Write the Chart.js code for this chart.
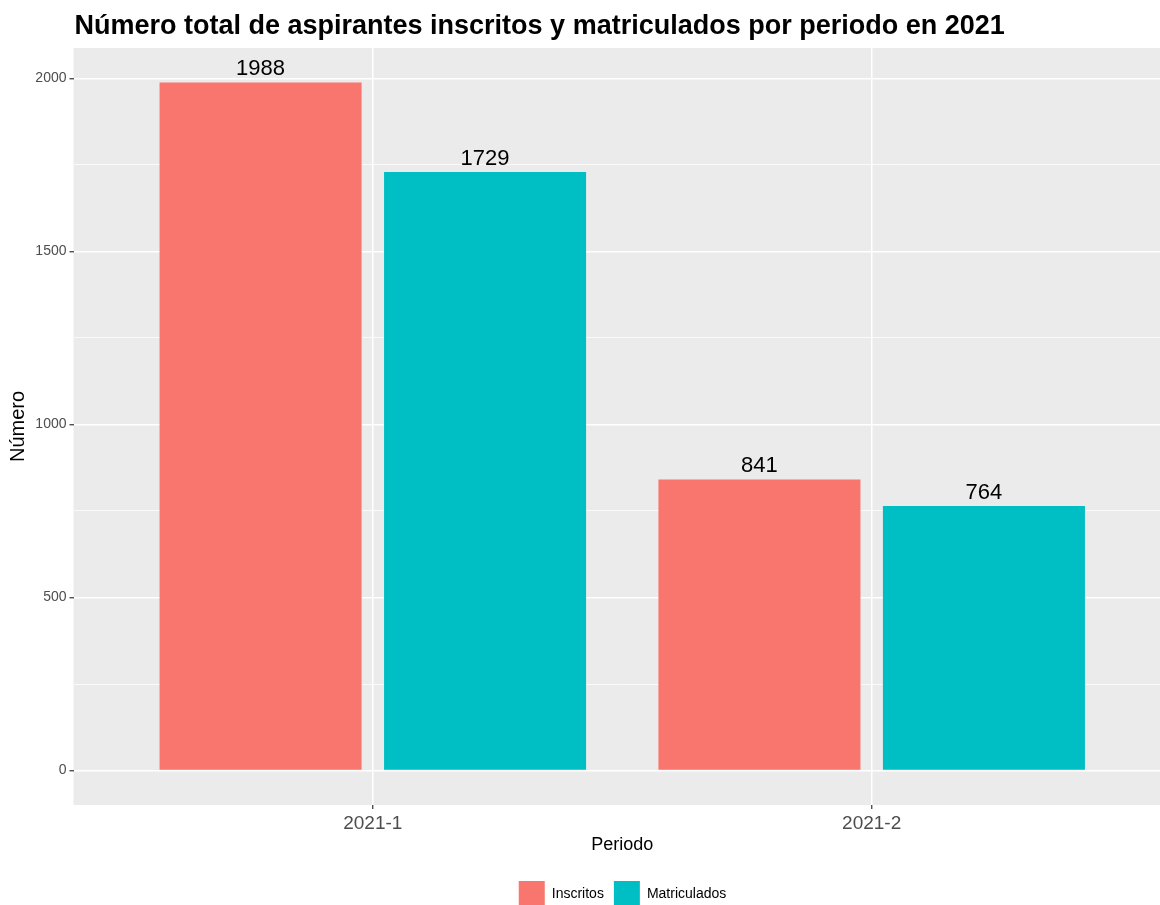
<!DOCTYPE html>
<html>
<head>
<meta charset="utf-8">
<script src="https://cdn.jsdelivr.net/npm/chart.js@4"></script>
<style>
  html, body { margin: 0; padding: 0; background: #fff; overflow: hidden; width: 1160px; height: 905px; }
  #wrap { width: 1172px; height: 917px; }
</style>
</head>
<body>
<div id="wrap"><canvas id="chart" width="1172" height="917"></canvas></div>
<script>
// data
const periods = ['2021-1', '2021-2'];
const inscritos = [1988, 841];
const matriculados = [1729, 764];
const yBreaks = [0, 500, 1000, 1500, 2000];

const FONT = "'Liberation Sans', Arial, sans-serif";
const yTop = Math.max(...inscritos, ...matriculados);
const yPad = yTop * 0.05;

// minor breaks sit half way between labelled ones
const yAllBreaks = [];
yBreaks.forEach((b, i) => {
    yAllBreaks.push(b);
    if (i < yBreaks.length - 1) yAllBreaks.push((b + yBreaks[i + 1]) / 2);
});

function toPoints(values) {
    return values.map((v, i) => ({ x: i + 1, y: v }));
}

// grey panel behind the plot
const panelBg = {
    id: 'panelBg',
    beforeDraw(chart) {
        const a = chart.chartArea;
        const ctx = chart.ctx;
        ctx.save();
        ctx.fillStyle = '#EBEBEB';
        ctx.fillRect(a.left, a.top, a.right - a.left, a.bottom - a.top);
        ctx.restore();
    }
};

// title, left aligned with the panel
const plotTitle = {
    id: 'plotTitle',
    afterDraw(chart) {
        const ctx = chart.ctx;
        ctx.save();
        ctx.font = 'bold 27px ' + FONT;
        ctx.fillStyle = '#000';
        ctx.textAlign = 'left';
        ctx.textBaseline = 'alphabetic';
        ctx.fillText('Número total de aspirantes inscritos y matriculados por periodo en 2021', chart.chartArea.left + 1, 34);
        ctx.restore();
    }
};

// numbers on top of the bars
const barLabels = {
    id: 'barLabels',
    afterDatasetsDraw(chart) {
        const ctx = chart.ctx;
        ctx.save();
        ctx.font = '22px ' + FONT;
        ctx.fillStyle = '#000';
        ctx.textAlign = 'center';
        ctx.textBaseline = 'alphabetic';
        chart.data.datasets.forEach((ds, di) => {
            chart.getDatasetMeta(di).data.forEach((bar, i) => {
                ctx.fillText(String(ds.data[i].y), bar.x, bar.y - 7);
            });
        });
        ctx.restore();
    }
};

// legend is centred on the whole figure in the original, nudge it right
const legendShift = {
    id: 'legendShift',
    afterLayout(chart) {
        chart.legend.left += 37;
        chart.legend.right += 37;
    }
};

new Chart(document.getElementById('chart'), {
    type: 'bar',
    data: {
        datasets: [
            {
                label: 'Inscritos',
                data: toPoints(inscritos),
                backgroundColor: '#F8766D',
                borderColor: '#F8766D',
                borderWidth: 0
            },
            {
                label: 'Matriculados',
                data: toPoints(matriculados),
                backgroundColor: '#00BFC4',
                borderColor: '#00BFC4',
                borderWidth: 0
            }
        ]
    },
    options: {
        responsive: false,
        animation: false,
        devicePixelRatio: 1,
        categoryPercentage: 0.9,
        barPercentage: 0.9,
        layout: { padding: { top: 48, right: 1, left: 0, bottom: 0 } },
        plugins: {
            tooltip: { enabled: false },
            title: { display: false },
            legend: {
                display: true,
                position: 'bottom',
                labels: {
                    boxWidth: 26,
                    boxHeight: 26,
                    padding: 10,
                    color: '#000',
                    font: { family: FONT, size: 14 }
                }
            }
        },
        scales: {
            x: {
                type: 'linear',
                min: 0.4,
                max: 2.6,
                offset: false,
                afterFit(scale) { scale.height = 66; },
                afterBuildTicks(scale) {
                    scale.ticks = periods.map((p, i) => ({ value: i + 1 }));
                },
                border: { display: false },
                grid: {
                    offset: false,
                    color: '#FFFFFF',
                    lineWidth: 1.5,
                    drawTicks: true,
                    tickLength: 4,
                    tickColor: '#333333',
                    tickWidth: 1.2
                },
                ticks: {
                    padding: 3,
                    color: '#4D4D4D',
                    font: { family: FONT, size: 19 },
                    maxRotation: 0,
                    callback: (v) => periods[v - 1] || ''
                },
                title: {
                    display: true,
                    text: 'Periodo',
                    color: '#000',
                    font: { family: FONT, size: 18 },
                    padding: { top: 0, bottom: 15 }
                }
            },
            y: {
                min: -yPad,
                max: yTop + yPad,
                afterFit(scale) { scale.width = 73.5; },
                afterBuildTicks(scale) {
                    scale.ticks = yAllBreaks.map(v => ({ value: v }));
                },
                border: { display: false },
                grid: {
                    color: '#FFFFFF',
                    lineWidth: (c) => (yBreaks.includes(c.tick.value) ? 1.5 : 0.75),
                    drawTicks: true,
                    tickLength: 4,
                    tickColor: (c) => (yBreaks.includes(c.tick.value) ? '#333333' : 'rgba(0,0,0,0)'),
                    tickWidth: 1.2
                },
                ticks: {
                    padding: 3,
                    color: '#4D4D4D',
                    font: { family: FONT, size: 14 },
                    callback: (v) => (yBreaks.includes(v) ? String(v) : '')
                },
                title: {
                    display: true,
                    text: 'Número',
                    color: '#000',
                    font: { family: FONT, size: 20 },
                    padding: { top: 6, bottom: 0 }
                }
            }
        }
    },
    plugins: [panelBg, plotTitle, barLabels, legendShift]
});
</script>
</body>
</html>
